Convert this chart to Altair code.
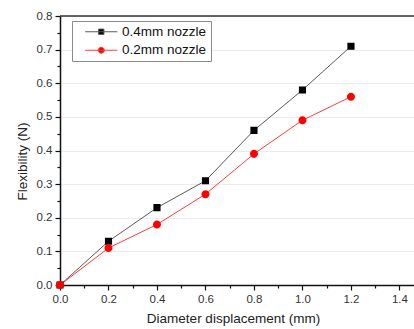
import altair as alt
import pandas as pd

# Measured flexibility versus diameter displacement for two nozzle sizes
displacement = [0.0, 0.2, 0.4, 0.6, 0.8, 1.0, 1.2]
flex_04mm = [0.0, 0.13, 0.23, 0.31, 0.46, 0.58, 0.71]
flex_02mm = [0.0, 0.11, 0.18, 0.27, 0.39, 0.49, 0.56]
series_names = ["0.4mm nozzle", "0.2mm nozzle"]

# Axis tick positions (majors get labels, minors are short unlabeled ticks)
x_tick_values = [round(i * 0.1, 1) for i in range(0, 15)]
y_tick_values = [round(i * 0.05, 2) for i in range(0, 17)]

rows = []
for name, values in zip(series_names, [flex_04mm, flex_02mm]):
    for d, f in zip(displacement, values):
        rows.append({"series": name, "displacement": d, "flexibility": f})
df = pd.DataFrame(rows)

FONT = "Liberation Sans"

line_colors = ["#5a5a5a", "#ff3b3b"]
marker_colors = ["#000000", "#ff0000"]
# Marker shapes with a short horizontal stroke so legend entries show line + marker
marker_paths = [
    "M-4.8,0H4.8M-0.8,-0.8H0.8V0.8H-0.8Z",
    "M-4.8,0H4.8M0.9,0A0.9,0.9,0,1,1,-0.9,0A0.9,0.9,0,1,1,0.9,0Z",
]

x_scale = alt.Scale(domain=[0, 1.46], nice=False, zero=True)
y_scale = alt.Scale(domain=[0, 0.8], nice=False)

x_axis = alt.Axis(
    values=x_tick_values,
    labelExpr="round(datum.value*10) % 2 == 0 ? format(datum.value, '.1f') : ''",
    tickSize={"condition": {"test": "round(datum.value*10) % 2 == 0", "value": 5}, "value": 3},
    labelOverlap=False,
    labelFlush=False,
    grid=False,
    domainColor="#111111",
    domainWidth=1.5,
    tickColor="#111111",
    tickWidth=1.2,
    labelFont=FONT,
    labelFontSize=11.5,
    labelColor="#333333",
    labelPadding=3,
    title="Diameter displacement (mm)",
    titleFont=FONT,
    titleFontSize=13.5,
    titleFontWeight="normal",
    titleColor="#222222",
    titlePadding=7,
    titleX=173,
)

y_axis = alt.Axis(
    values=y_tick_values,
    labelExpr="round(datum.value*20) % 2 == 0 ? format(datum.value, '.1f') : ''",
    tickSize={"condition": {"test": "round(datum.value*20) % 2 == 0", "value": 5}, "value": 3},
    labelOverlap=False,
    labelFlush=False,
    grid=True,
    gridColor="#ebebeb",
    gridWidth=1,
    gridOpacity={"condition": {"test": "round(datum.value*20) % 2 == 0", "value": 1}, "value": 0},
    domainColor="#111111",
    domainWidth=1.5,
    tickColor="#111111",
    tickWidth=1.2,
    labelFont=FONT,
    labelFontSize=11.5,
    labelColor="#333333",
    labelPadding=3,
    title="Flexibility (N)",
    titleFont=FONT,
    titleFontSize=13.5,
    titleFontWeight="normal",
    titleColor="#222222",
    titlePadding=7,
    titleY=145,
)

legend = alt.Legend(
    title=None,
    orient="none",
    legendX=12,
    legendY=5,
    strokeColor="#8a8a8a",
    fillColor="white",
    padding=4,
    labelFont=FONT,
    labelFontSize=13.5,
    labelColor="#111111",
    symbolSize=45,
    symbolOffset=18.5,
    labelOffset=14,
    rowPadding=3.5,
    symbolStrokeWidth=1,
)

base = alt.Chart(df)
xq = alt.X("displacement:Q", scale=x_scale, axis=x_axis)
yq = alt.Y("flexibility:Q", scale=y_scale, axis=y_axis)

# One connecting line per nozzle size
line_layers = [
    base.transform_filter(alt.datum.series == name)
    .mark_line(strokeWidth=1, color=col)
    .encode(x=xq, y=yq)
    for name, col in zip(series_names, line_colors)
]

points = base.mark_point(filled=True, opacity=1, strokeWidth=0, size=80).encode(
    x=xq,
    y=yq,
    fill=alt.Fill("series:N", scale=alt.Scale(domain=series_names, range=marker_colors), legend=legend),
    stroke=alt.Stroke("series:N", scale=alt.Scale(domain=series_names, range=line_colors), legend=legend),
    shape=alt.Shape("series:N", scale=alt.Scale(domain=series_names, range=marker_paths), legend=legend),
)

top_frame = alt.Chart(pd.DataFrame({"y": [0.8]})).mark_rule(color="#333333", strokeWidth=1.5).encode(
    y=alt.Y("y:Q", scale=y_scale, axis=y_axis)
)

chart = (
    alt.layer(*line_layers, points, top_frame)
    .properties(
        width=354,
        height=269,
        autosize=alt.AutoSizeParams(type="none"),
        padding={"left": 60, "top": 16, "right": 0, "bottom": 44},
        background="white",
    )
    .configure_view(stroke=None)
)

chart.save("out.html", embed_options={"renderer": "svg", "actions": False})
